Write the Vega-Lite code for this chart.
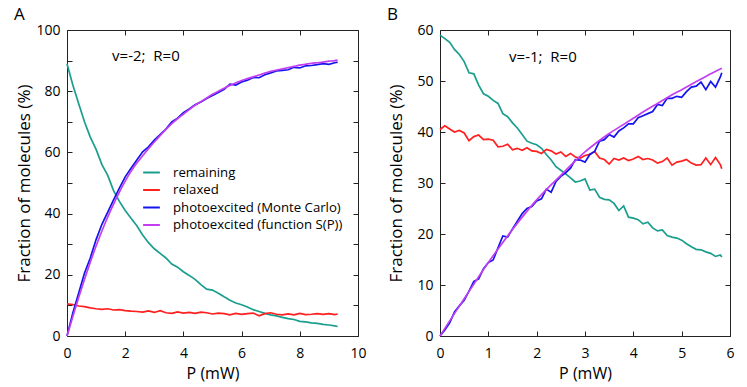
{
  "$schema": "https://vega.github.io/schema/vega-lite/v6.json",
  "padding": {"left": 13, "top": 5, "right": 5, "bottom": 5},
  "background": "white",
  "datasets": {
    "A": [
      {"s":"remaining","p":0,"v":89},{"s":"remaining","p":0.2,"v":82},{"s":"remaining","p":0.4,"v":76},{"s":"remaining","p":0.6,"v":70},{"s":"remaining","p":0.8,"v":65},{"s":"remaining","p":1.0,"v":61},{"s":"remaining","p":1.2,"v":56},{"s":"remaining","p":1.4,"v":52.5},{"s":"remaining","p":1.6,"v":47.5},{"s":"remaining","p":1.8,"v":44},{"s":"remaining","p":2.0,"v":41},{"s":"remaining","p":2.2,"v":38.5},{"s":"remaining","p":2.4,"v":36},{"s":"remaining","p":2.6,"v":33},{"s":"remaining","p":2.8,"v":30.5},{"s":"remaining","p":3.0,"v":28.5},{"s":"remaining","p":3.2,"v":27},{"s":"remaining","p":3.4,"v":25.5},{"s":"remaining","p":3.6,"v":23.5},{"s":"remaining","p":3.8,"v":22.5},{"s":"remaining","p":4.0,"v":21},{"s":"remaining","p":4.2,"v":19.8},{"s":"remaining","p":4.4,"v":18.5},{"s":"remaining","p":4.6,"v":16.8},{"s":"remaining","p":4.8,"v":15.3},{"s":"remaining","p":5.0,"v":15},{"s":"remaining","p":5.2,"v":14},{"s":"remaining","p":5.4,"v":12.8},{"s":"remaining","p":5.6,"v":11.7},{"s":"remaining","p":5.8,"v":10.8},{"s":"remaining","p":6.0,"v":10.2},{"s":"remaining","p":6.2,"v":9.5},{"s":"remaining","p":6.4,"v":8.6},{"s":"remaining","p":6.6,"v":8},{"s":"remaining","p":6.8,"v":7.4},{"s":"remaining","p":7.0,"v":6.9},{"s":"remaining","p":7.2,"v":6.6},{"s":"remaining","p":7.4,"v":6.1},{"s":"remaining","p":7.6,"v":5.7},{"s":"remaining","p":7.8,"v":5.4},{"s":"remaining","p":8.0,"v":4.8},{"s":"remaining","p":8.2,"v":4.6},{"s":"remaining","p":8.4,"v":4.3},{"s":"remaining","p":8.6,"v":4.1},{"s":"remaining","p":8.8,"v":3.8},{"s":"remaining","p":9.0,"v":3.6},{"s":"remaining","p":9.2,"v":3.3},{"s":"remaining","p":9.3,"v":3.1},
      {"s":"relaxed","p":0,"v":10.5},{"s":"relaxed","p":0.2,"v":10.3},{"s":"relaxed","p":0.4,"v":9.8},{"s":"relaxed","p":0.6,"v":9.6},{"s":"relaxed","p":0.8,"v":9.2},{"s":"relaxed","p":1.0,"v":8.9},{"s":"relaxed","p":1.2,"v":8.7},{"s":"relaxed","p":1.4,"v":8.9},{"s":"relaxed","p":1.6,"v":8.5},{"s":"relaxed","p":1.8,"v":8.6},{"s":"relaxed","p":2.0,"v":8.3},{"s":"relaxed","p":2.2,"v":8.1},{"s":"relaxed","p":2.4,"v":8.0},{"s":"relaxed","p":2.6,"v":7.8},{"s":"relaxed","p":2.8,"v":8.2},{"s":"relaxed","p":3.0,"v":7.7},{"s":"relaxed","p":3.2,"v":8.3},{"s":"relaxed","p":3.4,"v":7.6},{"s":"relaxed","p":3.6,"v":7.4},{"s":"relaxed","p":3.8,"v":7.9},{"s":"relaxed","p":4.0,"v":7.5},{"s":"relaxed","p":4.2,"v":7.7},{"s":"relaxed","p":4.4,"v":7.4},{"s":"relaxed","p":4.6,"v":7.8},{"s":"relaxed","p":4.8,"v":7.6},{"s":"relaxed","p":5.0,"v":7.2},{"s":"relaxed","p":5.2,"v":7.5},{"s":"relaxed","p":5.4,"v":7.3},{"s":"relaxed","p":5.6,"v":6.9},{"s":"relaxed","p":5.8,"v":7.4},{"s":"relaxed","p":6.0,"v":7.1},{"s":"relaxed","p":6.2,"v":7.3},{"s":"relaxed","p":6.4,"v":7.5},{"s":"relaxed","p":6.6,"v":6.6},{"s":"relaxed","p":6.8,"v":7.3},{"s":"relaxed","p":7.0,"v":7.6},{"s":"relaxed","p":7.2,"v":7.1},{"s":"relaxed","p":7.4,"v":6.9},{"s":"relaxed","p":7.6,"v":7.2},{"s":"relaxed","p":7.8,"v":6.9},{"s":"relaxed","p":8.0,"v":7.4},{"s":"relaxed","p":8.2,"v":7.0},{"s":"relaxed","p":8.4,"v":7.1},{"s":"relaxed","p":8.6,"v":7.3},{"s":"relaxed","p":8.8,"v":7.1},{"s":"relaxed","p":9.0,"v":7.3},{"s":"relaxed","p":9.2,"v":7.0},{"s":"relaxed","p":9.3,"v":7.2},
      {"s":"photoexcited (Monte Carlo)","p":0,"v":0},{"s":"photoexcited (Monte Carlo)","p":0.2,"v":7.5},{"s":"photoexcited (Monte Carlo)","p":0.4,"v":14},{"s":"photoexcited (Monte Carlo)","p":0.6,"v":20.5},{"s":"photoexcited (Monte Carlo)","p":0.8,"v":25.5},{"s":"photoexcited (Monte Carlo)","p":1.0,"v":31.5},{"s":"photoexcited (Monte Carlo)","p":1.2,"v":36.5},{"s":"photoexcited (Monte Carlo)","p":1.4,"v":40.5},{"s":"photoexcited (Monte Carlo)","p":1.6,"v":44.5},{"s":"photoexcited (Monte Carlo)","p":1.8,"v":48.3},{"s":"photoexcited (Monte Carlo)","p":2.0,"v":52},{"s":"photoexcited (Monte Carlo)","p":2.2,"v":54.8},{"s":"photoexcited (Monte Carlo)","p":2.4,"v":57.5},{"s":"photoexcited (Monte Carlo)","p":2.6,"v":60.2},{"s":"photoexcited (Monte Carlo)","p":2.8,"v":61.8},{"s":"photoexcited (Monte Carlo)","p":3.0,"v":64},{"s":"photoexcited (Monte Carlo)","p":3.2,"v":65.8},{"s":"photoexcited (Monte Carlo)","p":3.4,"v":67.6},{"s":"photoexcited (Monte Carlo)","p":3.6,"v":70},{"s":"photoexcited (Monte Carlo)","p":3.8,"v":71.2},{"s":"photoexcited (Monte Carlo)","p":4.0,"v":73},{"s":"photoexcited (Monte Carlo)","p":4.2,"v":74.2},{"s":"photoexcited (Monte Carlo)","p":4.4,"v":75.6},{"s":"photoexcited (Monte Carlo)","p":4.6,"v":76.5},{"s":"photoexcited (Monte Carlo)","p":4.8,"v":77.6},{"s":"photoexcited (Monte Carlo)","p":5.0,"v":78.6},{"s":"photoexcited (Monte Carlo)","p":5.2,"v":79.6},{"s":"photoexcited (Monte Carlo)","p":5.4,"v":80.6},{"s":"photoexcited (Monte Carlo)","p":5.6,"v":82.3},{"s":"photoexcited (Monte Carlo)","p":5.8,"v":82.0},{"s":"photoexcited (Monte Carlo)","p":6.0,"v":83.0},{"s":"photoexcited (Monte Carlo)","p":6.2,"v":83.6},{"s":"photoexcited (Monte Carlo)","p":6.4,"v":84.5},{"s":"photoexcited (Monte Carlo)","p":6.6,"v":84.4},{"s":"photoexcited (Monte Carlo)","p":6.8,"v":85.4},{"s":"photoexcited (Monte Carlo)","p":7.0,"v":86.0},{"s":"photoexcited (Monte Carlo)","p":7.2,"v":86.6},{"s":"photoexcited (Monte Carlo)","p":7.4,"v":86.8},{"s":"photoexcited (Monte Carlo)","p":7.6,"v":87.0},{"s":"photoexcited (Monte Carlo)","p":7.8,"v":87.8},{"s":"photoexcited (Monte Carlo)","p":8.0,"v":87.6},{"s":"photoexcited (Monte Carlo)","p":8.2,"v":88.3},{"s":"photoexcited (Monte Carlo)","p":8.4,"v":88.4},{"s":"photoexcited (Monte Carlo)","p":8.6,"v":88.7},{"s":"photoexcited (Monte Carlo)","p":8.8,"v":89.0},{"s":"photoexcited (Monte Carlo)","p":9.0,"v":88.8},{"s":"photoexcited (Monte Carlo)","p":9.2,"v":89.3},{"s":"photoexcited (Monte Carlo)","p":9.3,"v":89.5},
      {"s":"photoexcited (function S(P))","p":0,"v":0},{"s":"photoexcited (function S(P))","p":0.2,"v":6.4},{"s":"photoexcited (function S(P))","p":0.4,"v":12.6},{"s":"photoexcited (function S(P))","p":0.6,"v":18.5},{"s":"photoexcited (function S(P))","p":0.8,"v":24.1},{"s":"photoexcited (function S(P))","p":1.0,"v":29.4},{"s":"photoexcited (function S(P))","p":1.2,"v":34.3},{"s":"photoexcited (function S(P))","p":1.4,"v":38.9},{"s":"photoexcited (function S(P))","p":1.6,"v":43.1},{"s":"photoexcited (function S(P))","p":1.8,"v":47.0},{"s":"photoexcited (function S(P))","p":2.0,"v":50.6},{"s":"photoexcited (function S(P))","p":2.2,"v":53.8},{"s":"photoexcited (function S(P))","p":2.4,"v":56.5},{"s":"photoexcited (function S(P))","p":2.6,"v":58.9},{"s":"photoexcited (function S(P))","p":2.8,"v":61.2},{"s":"photoexcited (function S(P))","p":3.0,"v":63.4},{"s":"photoexcited (function S(P))","p":3.2,"v":65.5},{"s":"photoexcited (function S(P))","p":3.4,"v":67.5},{"s":"photoexcited (function S(P))","p":3.6,"v":69.4},{"s":"photoexcited (function S(P))","p":3.8,"v":71.0},{"s":"photoexcited (function S(P))","p":4.0,"v":72.5},{"s":"photoexcited (function S(P))","p":4.2,"v":74.0},{"s":"photoexcited (function S(P))","p":4.4,"v":75.4},{"s":"photoexcited (function S(P))","p":4.6,"v":76.6},{"s":"photoexcited (function S(P))","p":4.8,"v":77.8},{"s":"photoexcited (function S(P))","p":5.0,"v":79.0},{"s":"photoexcited (function S(P))","p":5.2,"v":80.0},{"s":"photoexcited (function S(P))","p":5.4,"v":81.0},{"s":"photoexcited (function S(P))","p":5.6,"v":81.9},{"s":"photoexcited (function S(P))","p":5.8,"v":82.7},{"s":"photoexcited (function S(P))","p":6.0,"v":83.5},{"s":"photoexcited (function S(P))","p":6.2,"v":84.1},{"s":"photoexcited (function S(P))","p":6.4,"v":84.7},{"s":"photoexcited (function S(P))","p":6.6,"v":85.3},{"s":"photoexcited (function S(P))","p":6.8,"v":85.9},{"s":"photoexcited (function S(P))","p":7.0,"v":86.5},{"s":"photoexcited (function S(P))","p":7.2,"v":86.9},{"s":"photoexcited (function S(P))","p":7.4,"v":87.3},{"s":"photoexcited (function S(P))","p":7.6,"v":87.7},{"s":"photoexcited (function S(P))","p":7.8,"v":88.1},{"s":"photoexcited (function S(P))","p":8.0,"v":88.5},{"s":"photoexcited (function S(P))","p":8.2,"v":88.8},{"s":"photoexcited (function S(P))","p":8.4,"v":89.1},{"s":"photoexcited (function S(P))","p":8.6,"v":89.3},{"s":"photoexcited (function S(P))","p":8.8,"v":89.5},{"s":"photoexcited (function S(P))","p":9.0,"v":89.8},{"s":"photoexcited (function S(P))","p":9.2,"v":90.0},{"s":"photoexcited (function S(P))","p":9.3,"v":90.2}
    ],
    "B": [
      {"s":"remaining","p":0,"v":59},{"s":"remaining","p":0.1,"v":58.3},{"s":"remaining","p":0.2,"v":57.6},{"s":"remaining","p":0.3,"v":56.2},{"s":"remaining","p":0.4,"v":55.2},{"s":"remaining","p":0.5,"v":53.8},{"s":"remaining","p":0.6,"v":51.6},{"s":"remaining","p":0.7,"v":51.4},{"s":"remaining","p":0.8,"v":49.2},{"s":"remaining","p":0.9,"v":47.5},{"s":"remaining","p":1.0,"v":47.0},{"s":"remaining","p":1.1,"v":46.2},{"s":"remaining","p":1.2,"v":45.6},{"s":"remaining","p":1.3,"v":43.6},{"s":"remaining","p":1.4,"v":43.0},{"s":"remaining","p":1.5,"v":41.8},{"s":"remaining","p":1.6,"v":40.8},{"s":"remaining","p":1.7,"v":39.5},{"s":"remaining","p":1.8,"v":38.2},{"s":"remaining","p":1.9,"v":37.8},{"s":"remaining","p":2.0,"v":37.5},{"s":"remaining","p":2.1,"v":36.8},{"s":"remaining","p":2.2,"v":35.6},{"s":"remaining","p":2.3,"v":34.5},{"s":"remaining","p":2.4,"v":33.2},{"s":"remaining","p":2.5,"v":32.5},{"s":"remaining","p":2.6,"v":31.8},{"s":"remaining","p":2.7,"v":31.0},{"s":"remaining","p":2.8,"v":30.2},{"s":"remaining","p":2.9,"v":30.4},{"s":"remaining","p":3.0,"v":30.8},{"s":"remaining","p":3.1,"v":28.6},{"s":"remaining","p":3.2,"v":28.8},{"s":"remaining","p":3.3,"v":27.2},{"s":"remaining","p":3.4,"v":26.8},{"s":"remaining","p":3.5,"v":26.7},{"s":"remaining","p":3.6,"v":26.0},{"s":"remaining","p":3.7,"v":24.6},{"s":"remaining","p":3.8,"v":25.5},{"s":"remaining","p":3.9,"v":23.3},{"s":"remaining","p":4.0,"v":23.1},{"s":"remaining","p":4.1,"v":22.8},{"s":"remaining","p":4.2,"v":22.0},{"s":"remaining","p":4.3,"v":22.3},{"s":"remaining","p":4.4,"v":21.2},{"s":"remaining","p":4.5,"v":20.6},{"s":"remaining","p":4.6,"v":20.8},{"s":"remaining","p":4.7,"v":19.7},{"s":"remaining","p":4.8,"v":19.4},{"s":"remaining","p":4.9,"v":19.2},{"s":"remaining","p":5.0,"v":18.8},{"s":"remaining","p":5.1,"v":18.1},{"s":"remaining","p":5.2,"v":17.5},{"s":"remaining","p":5.3,"v":17.0},{"s":"remaining","p":5.4,"v":16.9},{"s":"remaining","p":5.5,"v":16.5},{"s":"remaining","p":5.6,"v":16.2},{"s":"remaining","p":5.7,"v":15.6},{"s":"remaining","p":5.8,"v":15.9},{"s":"remaining","p":5.83,"v":15.5},
      {"s":"relaxed","p":0,"v":40.5},{"s":"relaxed","p":0.1,"v":41.2},{"s":"relaxed","p":0.2,"v":40.6},{"s":"relaxed","p":0.3,"v":40.0},{"s":"relaxed","p":0.4,"v":40.3},{"s":"relaxed","p":0.5,"v":39.8},{"s":"relaxed","p":0.6,"v":38.3},{"s":"relaxed","p":0.7,"v":39.1},{"s":"relaxed","p":0.8,"v":39.4},{"s":"relaxed","p":0.9,"v":38.5},{"s":"relaxed","p":1.0,"v":38.6},{"s":"relaxed","p":1.1,"v":38.4},{"s":"relaxed","p":1.2,"v":37.1},{"s":"relaxed","p":1.3,"v":37.2},{"s":"relaxed","p":1.4,"v":37.6},{"s":"relaxed","p":1.5,"v":36.5},{"s":"relaxed","p":1.6,"v":36.8},{"s":"relaxed","p":1.7,"v":36.4},{"s":"relaxed","p":1.8,"v":36.9},{"s":"relaxed","p":1.9,"v":36.3},{"s":"relaxed","p":2.0,"v":36.2},{"s":"relaxed","p":2.1,"v":35.8},{"s":"relaxed","p":2.2,"v":36.6},{"s":"relaxed","p":2.3,"v":36.3},{"s":"relaxed","p":2.4,"v":35.7},{"s":"relaxed","p":2.5,"v":36.1},{"s":"relaxed","p":2.6,"v":35.2},{"s":"relaxed","p":2.7,"v":35.8},{"s":"relaxed","p":2.8,"v":35.1},{"s":"relaxed","p":2.9,"v":34.9},{"s":"relaxed","p":3.0,"v":35.4},{"s":"relaxed","p":3.1,"v":35.6},{"s":"relaxed","p":3.2,"v":36.2},{"s":"relaxed","p":3.3,"v":34.9},{"s":"relaxed","p":3.4,"v":34.6},{"s":"relaxed","p":3.5,"v":33.7},{"s":"relaxed","p":3.6,"v":34.8},{"s":"relaxed","p":3.7,"v":34.5},{"s":"relaxed","p":3.8,"v":34.9},{"s":"relaxed","p":3.9,"v":34.4},{"s":"relaxed","p":4.0,"v":34.7},{"s":"relaxed","p":4.1,"v":35.2},{"s":"relaxed","p":4.2,"v":34.6},{"s":"relaxed","p":4.3,"v":34.8},{"s":"relaxed","p":4.4,"v":34.5},{"s":"relaxed","p":4.5,"v":33.9},{"s":"relaxed","p":4.6,"v":34.2},{"s":"relaxed","p":4.7,"v":34.9},{"s":"relaxed","p":4.8,"v":33.5},{"s":"relaxed","p":4.9,"v":34.1},{"s":"relaxed","p":5.0,"v":34.3},{"s":"relaxed","p":5.1,"v":34.6},{"s":"relaxed","p":5.2,"v":33.9},{"s":"relaxed","p":5.3,"v":33.5},{"s":"relaxed","p":5.4,"v":33.6},{"s":"relaxed","p":5.5,"v":34.9},{"s":"relaxed","p":5.6,"v":33.6},{"s":"relaxed","p":5.7,"v":35.0},{"s":"relaxed","p":5.8,"v":33.6},{"s":"relaxed","p":5.83,"v":32.8},
      {"s":"photoexcited (Monte Carlo)","p":0,"v":0},{"s":"photoexcited (Monte Carlo)","p":0.1,"v":1.2},{"s":"photoexcited (Monte Carlo)","p":0.2,"v":2.6},{"s":"photoexcited (Monte Carlo)","p":0.3,"v":4.7},{"s":"photoexcited (Monte Carlo)","p":0.4,"v":5.9},{"s":"photoexcited (Monte Carlo)","p":0.5,"v":7.0},{"s":"photoexcited (Monte Carlo)","p":0.6,"v":8.8},{"s":"photoexcited (Monte Carlo)","p":0.7,"v":10.7},{"s":"photoexcited (Monte Carlo)","p":0.8,"v":11.2},{"s":"photoexcited (Monte Carlo)","p":0.9,"v":13.2},{"s":"photoexcited (Monte Carlo)","p":1.0,"v":14.4},{"s":"photoexcited (Monte Carlo)","p":1.1,"v":14.9},{"s":"photoexcited (Monte Carlo)","p":1.2,"v":17.3},{"s":"photoexcited (Monte Carlo)","p":1.3,"v":19.6},{"s":"photoexcited (Monte Carlo)","p":1.4,"v":19.4},{"s":"photoexcited (Monte Carlo)","p":1.5,"v":21.0},{"s":"photoexcited (Monte Carlo)","p":1.6,"v":22.5},{"s":"photoexcited (Monte Carlo)","p":1.7,"v":24.0},{"s":"photoexcited (Monte Carlo)","p":1.8,"v":25.0},{"s":"photoexcited (Monte Carlo)","p":1.9,"v":25.4},{"s":"photoexcited (Monte Carlo)","p":2.0,"v":26.5},{"s":"photoexcited (Monte Carlo)","p":2.1,"v":26.9},{"s":"photoexcited (Monte Carlo)","p":2.2,"v":28.8},{"s":"photoexcited (Monte Carlo)","p":2.3,"v":28.2},{"s":"photoexcited (Monte Carlo)","p":2.4,"v":30.3},{"s":"photoexcited (Monte Carlo)","p":2.5,"v":31.3},{"s":"photoexcited (Monte Carlo)","p":2.6,"v":32.0},{"s":"photoexcited (Monte Carlo)","p":2.7,"v":32.9},{"s":"photoexcited (Monte Carlo)","p":2.8,"v":34.6},{"s":"photoexcited (Monte Carlo)","p":2.9,"v":34.5},{"s":"photoexcited (Monte Carlo)","p":3.0,"v":34.1},{"s":"photoexcited (Monte Carlo)","p":3.1,"v":35.6},{"s":"photoexcited (Monte Carlo)","p":3.2,"v":36.2},{"s":"photoexcited (Monte Carlo)","p":3.3,"v":38.2},{"s":"photoexcited (Monte Carlo)","p":3.4,"v":38.5},{"s":"photoexcited (Monte Carlo)","p":3.5,"v":39.5},{"s":"photoexcited (Monte Carlo)","p":3.6,"v":39.0},{"s":"photoexcited (Monte Carlo)","p":3.7,"v":40.2},{"s":"photoexcited (Monte Carlo)","p":3.8,"v":40.8},{"s":"photoexcited (Monte Carlo)","p":3.9,"v":41.6},{"s":"photoexcited (Monte Carlo)","p":4.0,"v":41.6},{"s":"photoexcited (Monte Carlo)","p":4.1,"v":42.8},{"s":"photoexcited (Monte Carlo)","p":4.2,"v":43.2},{"s":"photoexcited (Monte Carlo)","p":4.3,"v":43.6},{"s":"photoexcited (Monte Carlo)","p":4.4,"v":44.0},{"s":"photoexcited (Monte Carlo)","p":4.5,"v":45.4},{"s":"photoexcited (Monte Carlo)","p":4.6,"v":45.2},{"s":"photoexcited (Monte Carlo)","p":4.7,"v":46.6},{"s":"photoexcited (Monte Carlo)","p":4.8,"v":46.6},{"s":"photoexcited (Monte Carlo)","p":4.9,"v":47.0},{"s":"photoexcited (Monte Carlo)","p":5.0,"v":46.8},{"s":"photoexcited (Monte Carlo)","p":5.1,"v":47.9},{"s":"photoexcited (Monte Carlo)","p":5.2,"v":48.8},{"s":"photoexcited (Monte Carlo)","p":5.3,"v":49.0},{"s":"photoexcited (Monte Carlo)","p":5.4,"v":49.8},{"s":"photoexcited (Monte Carlo)","p":5.5,"v":48.3},{"s":"photoexcited (Monte Carlo)","p":5.6,"v":49.9},{"s":"photoexcited (Monte Carlo)","p":5.7,"v":48.8},{"s":"photoexcited (Monte Carlo)","p":5.8,"v":50.8},{"s":"photoexcited (Monte Carlo)","p":5.83,"v":51.6},
      {"s":"photoexcited (function S(P))","p":0,"v":0},{"s":"photoexcited (function S(P))","p":0.25,"v":3.7},{"s":"photoexcited (function S(P))","p":0.5,"v":7.3},{"s":"photoexcited (function S(P))","p":0.75,"v":10.9},{"s":"photoexcited (function S(P))","p":1.0,"v":14.4},{"s":"photoexcited (function S(P))","p":1.25,"v":17.7},{"s":"photoexcited (function S(P))","p":1.5,"v":20.9},{"s":"photoexcited (function S(P))","p":1.75,"v":23.9},{"s":"photoexcited (function S(P))","p":2.0,"v":26.7},{"s":"photoexcited (function S(P))","p":2.25,"v":29.2},{"s":"photoexcited (function S(P))","p":2.5,"v":31.5},{"s":"photoexcited (function S(P))","p":2.75,"v":33.9},{"s":"photoexcited (function S(P))","p":3.0,"v":36.1},{"s":"photoexcited (function S(P))","p":3.25,"v":38.0},{"s":"photoexcited (function S(P))","p":3.5,"v":39.7},{"s":"photoexcited (function S(P))","p":3.75,"v":41.2},{"s":"photoexcited (function S(P))","p":4.0,"v":42.7},{"s":"photoexcited (function S(P))","p":4.25,"v":44.2},{"s":"photoexcited (function S(P))","p":4.5,"v":45.6},{"s":"photoexcited (function S(P))","p":4.75,"v":47.0},{"s":"photoexcited (function S(P))","p":5.0,"v":48.3},{"s":"photoexcited (function S(P))","p":5.25,"v":49.6},{"s":"photoexcited (function S(P))","p":5.5,"v":50.9},{"s":"photoexcited (function S(P))","p":5.83,"v":52.5}
    ],
    "noteA": [{"p": 1.55, "v": 91.5, "t": "v=-2;\u00a0 R=0"}],
    "noteB": [{"p": 1.43, "v": 54.8, "t": "v=-1;\u00a0 R=0"}]
  },
  "hconcat": [
    {
      "width": 291,
      "height": 306,
      "title": {"text": "A", "anchor": "start", "frame": "group", "dx": -53, "fontSize": 17, "fontWeight": "normal", "offset": -1},
      "resolve": {"axis": {"x": "independent", "y": "independent"}},
      "layer": [
        {
          "data": {"name": "A"},
          "transform": [{"filter": "datum.s !== 'photoexcited (function S(P))'"}],
          "mark": {"type": "line", "strokeWidth": 1.7},
          "encoding": {
            "x": {"field": "p", "type": "quantitative", "scale": {"domain": [0, 10], "nice": false}, "axis": {"title": "P (mW)", "values": [0,2,4,6,8,10]}},
            "y": {"field": "v", "type": "quantitative", "scale": {"domain": [0, 100], "nice": false}, "axis": {"title": "Fraction of molecules (%)", "titlePadding": 2, "values": [0,10,20,30,40,50,60,70,80,90,100], "labelExpr": "datum.value % 20 === 0 ? datum.label : ''"}},
            "color": {"field": "s", "type": "nominal", "scale": {"domain": ["remaining","relaxed","photoexcited (Monte Carlo)","photoexcited (function S(P))"], "range": ["#1a9e8e","#ff1f1f","#1414ee","#c23ef0"]},
              "legend": {"title": null, "orient": "none", "legendX": 75, "legendY": 133, "symbolType": "stroke", "symbolSize": 280, "symbolStrokeWidth": 2, "labelFontSize": 13.2, "labelColor": "black", "labelLimit": 400, "rowPadding": 1.5, "labelOffset": 12}}
          }
        },
        {
          "data": {"name": "A"},
          "transform": [{"filter": "datum.s === 'photoexcited (function S(P))'"}],
          "mark": {"type": "line", "strokeWidth": 1.7, "interpolate": "monotone"},
          "encoding": {
            "x": {"field": "p", "type": "quantitative", "axis": null},
            "y": {"field": "v", "type": "quantitative", "axis": null},
            "color": {"field": "s", "type": "nominal"}
          }
        },
        {
          "data": {"name": "noteA"},
          "mark": {"type": "text", "align": "left", "baseline": "middle", "fontSize": 15},
          "encoding": {
            "x": {"field": "p", "type": "quantitative", "axis": {"orient": "top", "title": null, "labels": false, "values": [0,2,4,6,8,10]}},
            "y": {"field": "v", "type": "quantitative", "axis": {"orient": "right", "title": null, "labels": false, "values": [0,10,20,30,40,50,60,70,80,90,100]}},
            "text": {"field": "t"}
          }
        }
      ]
    },
    {
      "width": 290,
      "height": 306,
      "title": {"text": "B", "anchor": "start", "frame": "group", "dx": -53, "fontSize": 17, "fontWeight": "normal", "offset": -1},
      "resolve": {"axis": {"x": "independent", "y": "independent"}},
      "layer": [
        {
          "data": {"name": "B"},
          "transform": [{"filter": "datum.s !== 'photoexcited (function S(P))'"}],
          "mark": {"type": "line", "strokeWidth": 1.7},
          "encoding": {
            "x": {"field": "p", "type": "quantitative", "scale": {"domain": [0, 6], "nice": false}, "axis": {"title": "P (mW)", "values": [0,1,2,3,4,5,6]}},
            "y": {"field": "v", "type": "quantitative", "scale": {"domain": [0, 60], "nice": false}, "axis": {"title": "Fraction of molecules (%)", "titlePadding": 11, "values": [0,10,20,30,40,50,60]}},
            "color": {"field": "s", "type": "nominal", "scale": {"domain": ["remaining","relaxed","photoexcited (Monte Carlo)","photoexcited (function S(P))"], "range": ["#1a9e8e","#ff1f1f","#1414ee","#c23ef0"]}, "legend": null}
          }
        },
        {
          "data": {"name": "B"},
          "transform": [{"filter": "datum.s === 'photoexcited (function S(P))'"}],
          "mark": {"type": "line", "strokeWidth": 1.7, "interpolate": "monotone"},
          "encoding": {
            "x": {"field": "p", "type": "quantitative", "axis": null},
            "y": {"field": "v", "type": "quantitative", "axis": null},
            "color": {"field": "s", "type": "nominal", "legend": null}
          }
        },
        {
          "data": {"name": "noteB"},
          "mark": {"type": "text", "align": "left", "baseline": "middle", "fontSize": 15},
          "encoding": {
            "x": {"field": "p", "type": "quantitative", "axis": {"orient": "top", "title": null, "labels": false, "values": [0,1,2,3,4,5,6]}},
            "y": {"field": "v", "type": "quantitative", "axis": {"orient": "right", "title": null, "labels": false, "values": [0,10,20,30,40,50,60]}},
            "text": {"field": "t"}
          }
        }
      ]
    }
  ],
  "spacing": 19,
  "resolve": {"scale": {"color": "independent"}},
  "config": {
    "font": "Open Sans",
    "view": {"stroke": "#222", "strokeWidth": 1},
    "axis": {"domain": false, "grid": false, "ticks": true, "tickSize": -5, "tickColor": "#222", "tickWidth": 1, "zindex": 1, "labelFontSize": 14, "labelColor": "black", "labelPadding": 12, "titleFontSize": 17, "titleFontWeight": "normal", "titleColor": "black", "labelFlush": false},
    "axisX": {"titlePadding": 5, "labelPadding": 15, "titleFontSize": 16},
    "title": {"color": "black"},
    "text": {"color": "black"}
  }
}
